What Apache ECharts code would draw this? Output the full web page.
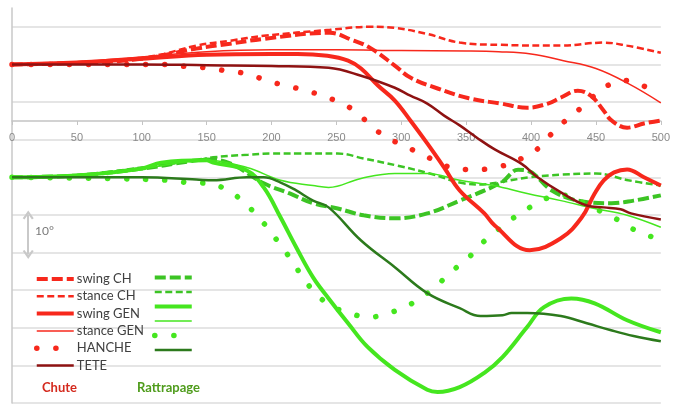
<!DOCTYPE html>
<html><head><meta charset="utf-8">
<script src="https://cdn.jsdelivr.net/npm/echarts@6/dist/echarts.min.js"></script>
<style>html,body{margin:0;padding:0;background:#fff}#c{width:673px;height:405px}</style>
</head><body><div id="c"></div>
<script>
// ---- data (x = time, y = angle in degrees, groups offset on one axis) ----
const legendNames = ['swing CH','stance CH','swing GEN','stance GEN','HANCHE','TETE'];
const groupNames = ['Chute','Rattrapage'];
const scaleLabel = '10°';
const scaleArrow = [[12.5,-10],[12.5,-20.5]];

// Chute (red)
const chuteSwingCH = [[0,30],[50,30.4],[100,31.5],[142,34.2],[168,35.5],[194,36.8],[245,38.4],[262,36.5],[276,34.4],[295,29.7],[307,26.5],[328,23.6],[352,21.0],[377,19.6],[397,18.5],[413,19.6],[423,21.2],[436,23],[446,21.7],[456,17.7],[462,15.1],[474,13.2],[487,14.3],[500,15.1]];
const chuteStanceCH = [[0,30],[50,30.5],[100,31.8],[117,32.8],[142,35],[168,36.3],[194,37.6],[245,39.2],[276,40],[295,39.7],[320,38.1],[345,35.8],[377,35.2],[423,35],[456,35.8],[474,35],[500,33.1]];
const chuteSwingGEN = [[0,30],[50,30.5],[100,31.5],[150,32.6],[200,32.8],[220,32.8],[243,32.3],[259,31],[269,28.9],[282,24.4],[295,20.4],[307,15.1],[320,9],[333,2.6],[345,-3.5],[364,-9.6],[372,-12.8],[399,-19.4],[423,-16.2],[439,-10.7],[449,-4.3],[456,-0.8],[464,1.3],[474,2.1],[487,0],[500,-2.2]];
const chuteStanceGEN = [[0,30],[50,30.7],[100,32],[150,33.4],[200,33.9],[250,33.9],[300,33.7],[350,33.6],[375,33.4],[400,32.8],[425,31],[450,28.9],[475,24.9],[500,19.8]];
const chuteHanche = [[0,30],[67,30],[119,30],[135,29.4],[150,29.1],[165,28.3],[181,27.5],[195,25.9],[210,24.4],[224,23.3],[239,21.7],[253,19.8],[266,17.2],[277,13.5],[289,10.6],[303,8.2],[317,6],[330,3.7],[345,2.1],[360,2.1],[374,2.6],[402,6.8],[413,10.6],[424,14.3],[436,17.7],[447,21.2],[459,24.4],[474,25.7],[488,24.1],[500,22.5]];
const chuteTete = [[0,30],[100,30],[150,29.8],[200,29.6],[244,29.1],[269,27],[295,23.8],[307,21.7],[320,19.6],[333,16.4],[345,13.8],[358,10.6],[372,7.4],[393,3.5],[405,0],[423,-4],[443,-7.5],[456,-8],[469,-8.5],[477,-9.6],[500,-11.2]];

// Rattrapage (green)
const ratSwingCH = [[0,0],[50,0.5],[100,2.3],[136,4.2],[150,4.7],[168,3.7],[194,-1.6],[214,-4.3],[232,-6.9],[251,-8.3],[271,-10.1],[295,-10.9],[320,-9.6],[345,-6.2],[377,-1.4],[390,2.0],[397,1.8],[416,-3.5],[436,-6.2],[462,-6.9],[479,-6.2],[500,-4.8]];
const ratStanceCH = [[0,0],[50,0.5],[100,2.6],[142,4.5],[155,5.3],[182,6],[201,6.3],[220,6.3],[251,6.3],[271,5],[297,3.1],[322,1],[348,-1.6],[361,-1.9],[374,-1.4],[399,0],[424,0.7],[450,1],[475,-0.8],[500,-2.2]];
const ratSwingGEN = [[0,0],[50,0.5],[100,2.3],[115,3.9],[150,4.5],[155,3.9],[181,1.8],[194,-2.7],[207,-10.7],[219,-18.6],[232,-26.6],[244,-32.2],[259,-38.8],[274,-45.1],[295,-51.2],[320,-56.5],[328,-57.1],[345,-55.8],[364,-52],[378,-47.8],[397,-39.8],[410,-34.5],[431,-32.2],[449,-33.5],[474,-38],[500,-41.2]];
const ratStanceGEN = [[0,0],[50,0.5],[100,2.3],[150,4.5],[181,2.6],[207,-0.8],[232,-2.2],[244,-2.7],[269,-0.3],[295,1],[320,1],[345,-0.8],[371,-2.2],[397,-4.3],[423,-6.2],[449,-8.3],[474,-10.1],[500,-13.3]];
const ratHanche = [[0,0],[67,-0.3],[121,-0.8],[135,-1.4],[150,-1.6],[165,-3.2],[178,-6.4],[188,-9.9],[198,-13.9],[207,-18.1],[216,-22.3],[224,-26.6],[234,-30.8],[245,-34],[260,-36.1],[275,-37.2],[290,-36.1],[304,-34.3],[317,-31.6],[329,-28.2],[340,-24.7],[352,-21.3],[362,-17.6],[374,-14.1],[386,-10.9],[399,-8],[412,-5.6],[427,-4.8],[441,-6.9],[455,-9.3],[469,-11.7],[482,-14.4],[496,-16.2],[500,-16.8]];
const ratTete = [[0,0],[100,0],[142,-0.6],[155,-0.8],[181,0],[194,0],[207,-1.4],[219,-3.5],[232,-6.2],[244,-8],[269,-16.8],[295,-23.9],[320,-30.8],[345,-34.8],[361,-36.9],[378,-36.7],[385,-36.1],[397,-36.1],[423,-36.9],[443,-38.8],[461,-40.6],[479,-42.2],[500,-43.6]];

// ---- styles ----
const RED = '#f7281c', DARKRED = '#8e1212';
const GCH = '#3cc424', LIME = '#45e61f', DARKGREEN = '#2c7a1c';
const styles = [
  {w:4,   type:[11,4], cap:'butt'},   // swing CH
  {w:2.5, type:[7,3.5], cap:'butt'},  // stance CH
  {w:4,   type:'solid', cap:'butt'},  // swing GEN
  {w:1.5, type:'solid', cap:'butt'},  // stance GEN
  {w:5.5, type:[0.1,19], cap:'round'},// HANCHE
  {w:2.5, type:'solid', cap:'butt'}   // TETE
];
const redData = [chuteSwingCH, chuteStanceCH, chuteSwingGEN, chuteStanceGEN, chuteHanche, chuteTete];
const greenData = [ratSwingCH, ratStanceCH, ratSwingGEN, ratStanceGEN, ratHanche, ratTete];
const redColors = [RED, RED, RED, RED, RED, DARKRED];
const greenColors = [GCH, GCH, LIME, LIME, LIME, DARKGREEN];

function mk(name, data, color, st, z) {
  return {
    name: name, type: 'line', data: data, smooth: 0.4, symbol: 'none', z: z,
    lineStyle: {color: color, width: st.w, type: st.type, cap: st.cap},
    itemStyle: {color: color}, silent: true
  };
}
const series = [];
const greenNames = legendNames.map(n => n + ' (' + groupNames[1] + ')');
legendNames.forEach((n, i) => series.push(mk(greenNames[i], greenData[i], greenColors[i], styles[i], 2)));
legendNames.forEach((n, i) => series.push(mk(n, redData[i], redColors[i], styles[i], 3)));

series[0].markLine = {
  silent: true, animation: false,
  symbol: ['path://M0,8 L5,0 L10,8 L8.4,9.2 L5,4 L1.6,9.2 Z', 'path://M0,8 L5,0 L10,8 L8.4,9.2 L5,4 L1.6,9.2 Z'],
  symbolSize: [11, 9],
  lineStyle: {color: '#c9c9c9', width: 2, type: 'solid'},
  label: {show: false},
  data: [[{coord: scaleArrow[0]}, {coord: scaleArrow[1]}]]
};

function legendItems(names, colors) {
  return names.map((n, i) => ({
    name: n,
    lineStyle: {width: styles[i].w, type: styles[i].type, cap: styles[i].cap, color: colors[i]}
  }));
}

const legendCommon = {
  orient: 'vertical', top: 272, itemWidth: 37, itemHeight: 14, itemGap: 3.3,
  selectedMode: false, padding: 0,
  itemStyle: {opacity: 0, borderWidth: 0},
  textStyle: {fontFamily: 'Lato', fontSize: 13, color: '#404040', lineHeight: 14, padding: [0,0,0,-2]}
};

const option = {
  animation: false,
  backgroundColor: '#fff',
  grid: {left: 12, right: 8, top: 8, bottom: 2},
  title: [
    {text: groupNames[0], left: 42, top: 381, padding: 0, textStyle: {fontFamily: 'Lato', fontSize: 13, fontWeight: 'bold', color: '#d42a1e'}},
    {text: groupNames[1], left: 137, top: 381, padding: 0, textStyle: {fontFamily: 'Lato', fontSize: 13, fontWeight: 'bold', color: '#4f9c1c'}},
    {text: scaleLabel, left: 35, top: 225, padding: 0, textStyle: {fontFamily: 'Lato', fontSize: 12, fontWeight: 'normal', color: '#7a7a7a'}}
  ],
  legend: [
    Object.assign({}, legendCommon, {left: 34, data: legendItems(legendNames, redColors)}),
    Object.assign({}, legendCommon, {left: 152, data: legendItems(greenNames, greenColors), formatter: () => ''})
  ],
  xAxis: {
    type: 'value', min: 0, max: 500, interval: 50, position: 'bottom', offset: -282,
    axisLine: {show: true, onZero: false, lineStyle: {color: '#c4c4c4', width: 1.5}},
    axisTick: {show: true, length: 4, lineStyle: {color: '#c4c4c4'}},
    axisLabel: {margin: 11, fontFamily: 'Liberation Sans', fontSize: 11, color: '#8a8a8a'},
    splitLine: {show: false}
  },
  yAxis: {
    type: 'value', min: -60, max: 45, interval: 10,
    axisLine: {show: true, lineStyle: {color: '#c8c8c8', width: 1.5}},
    axisTick: {show: false}, axisLabel: {show: false},
    splitLine: {show: true, showMaxLine: false, showMinLine: true, lineStyle: {color: '#dcdcdc', width: 1.5}}
  },
  series: series
};
const chart = echarts.init(document.getElementById('c'), null, {renderer: 'canvas'});
chart.setOption(option);
</script>
</body></html>
